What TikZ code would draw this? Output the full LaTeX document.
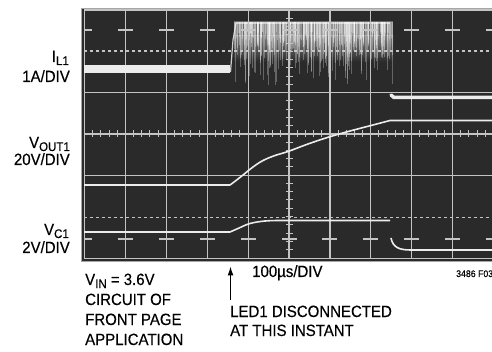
\documentclass[tikz,border=0pt]{standalone}
\usepackage{fontspec}
\setmainfont{Liberation Sans}[FakeStretch=0.92,FakeBold=0.3]
\usetikzlibrary{arrows.meta}
\definecolor{scr}{HTML}{2A2A2A}
\definecolor{gridc}{HTML}{C4C4C4}
\definecolor{trc}{HTML}{ECECEC}
\newcommand{\sbs}[1]{\raisebox{-3pt}{\fontsize{12.5}{12.5}\selectfont #1}}
\begin{document}
\begin{tikzpicture}[x=1pt,y=-1pt,
  lbl/.style={inner sep=0pt, font=\fontsize{16.3}{19}\selectfont},
  small/.style={inner sep=0pt, font=\fontsize{9.5}{11}\selectfont},
  gridline/.style={draw=gridc, line width=1.2pt},
  tick/.style={draw=gridc, line width=1pt},
  finedash/.style={draw=gridc, line width=1.3pt, dash pattern=on 3.3pt off 2.7pt},
  trace/.style={draw=trc, line width=1.6pt, line join=round}]
\fill[white] (0,0) rectangle (492,352);
\useasboundingbox (0,0) rectangle (492,352);
% screen
\fill[scr] (81,8) rectangle (492,262);
\draw[gray!70, line width=0.8pt] (492,8.4) -- (81.4,8.4) -- (81.4,261.6) -- (492,261.6);
\begin{scope}
\clip (84,9.5) rectangle (492,259.5);
% I_L1 noise (under the grid)
\fill[white, opacity=0.30] (234,21.5) rectangle (393,36);
\shade[top color=white!50!scr, bottom color=scr, opacity=0.8] (234,36) rectangle (393,62);
\pgfmathsetseed{4711}
\foreach \i in {1,...,420} {
  \pgfmathsetmacro\xx{234+159*rnd}
  \pgfmathsetmacro\yy{32+58*rnd*rnd}
  \draw[white, opacity=0.28, line width=0.7pt] (\xx,22) -- (\xx,\yy);
}
\draw[white, opacity=0.55, line width=1.5pt] (236,23) -- (390,23);
% vertical grid lines
\foreach \k in {0,...,10} \draw[gridline] (84.5+40.9*\k,10) -- ++(0,249);
% horizontal grid lines
\foreach \yy in {10,92.6,134,175.2,258.6} \draw[gridline] (84,\yy) -- (492,\yy);
% fine dashed lines
\draw[finedash] (84,51) -- (492,51);
\draw[finedash] (84,217.5) -- (492,217.5);
% short dashes
\foreach \k in {0,...,10} {
  \draw[gridline] (84.5+40.9*\k-7.5,30) -- ++(15,0);
  \draw[gridline] (84.5+40.9*\k-7.5,239) -- ++(15,0);
}
% centre ticks
\foreach \j in {1,...,29} \draw[tick] (285.5,10+8.26*\j) -- ++(7,0);
\foreach \j in {1,...,50} \draw[tick] (84.5+8.18*\j,130.5) -- ++(0,7);
% I_L1 trace
\draw[trc, line width=7.5pt] (84,69) -- (230,69);
\draw[trc, line width=1.2pt, opacity=0.85] (230.5,72) -- (233,40) -- (236,23);
\draw[trc, line width=3.5pt, line cap=round] (391,95) -- (394,97.5) -- (492,97.5);
% V_OUT1 trace
\draw[trace] (84,185) -- (230,185) plot[smooth, tension=0.6] coordinates {(230,185) (236,180.5) (243,175) (253,167) (263,160.5) (275,155.5) (288,151.5) (308,144) (329,137) (350,131) (371,125.5) (390,120.5)} -- (492,120.5);
% V_C1 trace
\draw[trace] (84,232) -- (230,232) plot[smooth, tension=0.6] coordinates {(230,232) (238,228.5) (250,223.5) (265,221) (280,220.5)} -- (390,220.5);
\draw[trace] (391,238) .. controls (393,248) and (400,250) .. (411,250) -- (492,250);
\end{scope}
% labels
\node[lbl, anchor=base east] (il) at (69,62) {I\sbs{L1}};
\node[lbl, anchor=base east] (ild) at (70,82) {1A/DIV};
\node[lbl, anchor=base east] (vo) at (70,148) {V\sbs{OUT1}};
\node[lbl, anchor=base east] (vod) at (70,165) {20V/DIV};
\node[lbl, anchor=base east] (vc) at (69,235) {V\sbs{C1}};
\node[lbl, anchor=base east] (vcd) at (70,253) {2V/DIV};
\node[lbl, anchor=base west] (vin) at (85,285) {V\sbs{IN} = 3.6V};
\node[lbl, anchor=base west] (cir) at (85,305) {CIRCUIT OF};
\node[lbl, anchor=base west] (fro) at (85,325) {FRONT PAGE};
\node[lbl, anchor=base west] (app) at (85,345) {APPLICATION};
\node[lbl, anchor=base west] (tdiv) at (252,277) {100µs/DIV};
\node[lbl, anchor=base west] (led) at (230,317) {LED1 DISCONNECTED};
\node[lbl, anchor=base west] (ati) at (230,336) {AT THIS INSTANT};
\node[small, anchor=base west] (fig) at (456,277) {3486 F03};
\coordinate (atail) at (230.5,300);
\coordinate (ahead) at (230.5,266.5);
\draw[-{Latex[length=9pt,width=6pt]}, line width=1.2pt] (atail) -- (ahead);
\end{tikzpicture}
\end{document}
